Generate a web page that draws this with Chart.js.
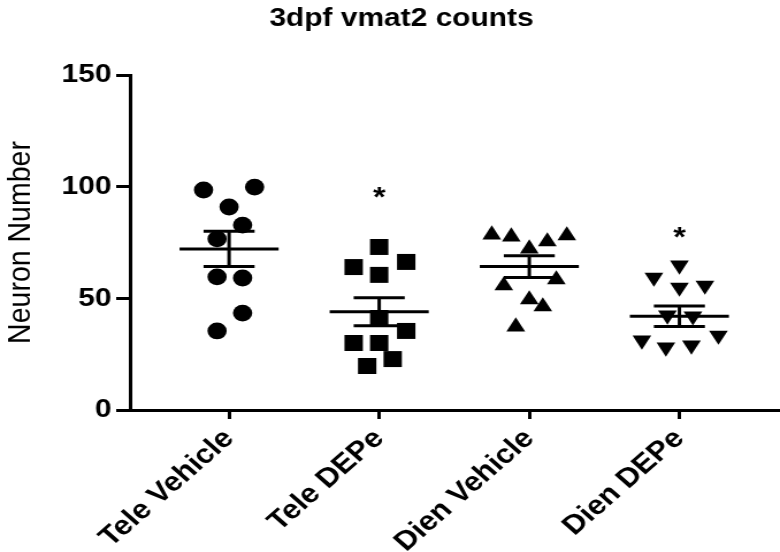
<!DOCTYPE html>
<html>
<head>
<meta charset="utf-8">
<script src="https://cdn.jsdelivr.net/npm/chart.js@4.4.0/dist/chart.umd.min.js"></script>
<style>
html, body { margin: 0; padding: 0; background: #fff; overflow: hidden; }
/* the source figure is stretched sideways, so the whole chart is widened the same way */
#wrap { width: 678px; height: 552px; transform: scaleX(1.1504); transform-origin: 0 0; }
</style>
</head>
<body>
<div id="wrap"><canvas id="vmat2-chart"></canvas></div>
<script>
// values
const groups = ['Tele Vehicle', 'Tele DEPe', 'Dien Vehicle', 'Dien DEPe'];
const teleVehicle = [98.5, 99.8, 90.9, 82.8, 76.6, 59.6, 59.1, 43.4, 35.4];
const teleDEPe = [73.0, 64.0, 66.3, 60.5, 41.2, 35.4, 30.0, 30.0, 22.8, 19.7];
const dienVehicle = [78.5, 77.6, 75.4, 78.1, 72.2, 58.4, 55.7, 49.4, 46.3, 37.3];
const dienDEPe = [64.8, 59.4, 54.9, 55.8, 42.4, 42.0, 33.4, 31.2, 28.1, 29.0];
const means = [72.1, 44.0, 64.2, 42.0];
const sems = [7.9, 6.3, 4.9, 4.6];
const stars = [null, 98.5, null, 80.5];
const yTicks = [0, 50, 100, 150];

// horizontal scatter of the dots inside each column (category units)
const teleVehicleSpread = [-0.17, 0.17, 0, 0.09, -0.08, -0.08, 0.09, 0.09, -0.08];
const teleDEPeSpread = [0, -0.17, 0.18, 0, 0, 0.18, -0.17, 0, 0.09, -0.08];
const dienVehicleSpread = [-0.25, -0.12, 0.12, 0.25, 0, 0.18, -0.17, 0, 0.09, -0.09];
const dienDEPeSpread = [0, -0.17, 0, 0.17, -0.08, 0.09, 0.26, -0.25, -0.09, 0.08];

const FONT = '"Liberation Sans", Arial, Helvetica, sans-serif';

function dots(values, spread, i) {
    return values.map((v, k) => ({ x: i + spread[k], y: v }));
}

function meanLine(i) {
    return [{ x: i - 0.33, y: means[i] }, { x: i + 0.33, y: means[i] }];
}

function semBars(i) {
    const up = means[i] + sems[i];
    const lo = means[i] - sems[i];
    return [
        { x: i - 0.17, y: up }, { x: i + 0.17, y: up }, { x: i + 0.17, y: null },
        { x: i, y: up }, { x: i, y: lo }, { x: i, y: null },
        { x: i - 0.17, y: lo }, { x: i + 0.17, y: lo }
    ];
}

const dotSets = [
    { data: dots(teleVehicle, teleVehicleSpread, 0), pointStyle: 'circle', pointRadius: 8.4, pointRotation: 0 },
    { data: dots(teleDEPe, teleDEPeSpread, 1), pointStyle: 'rect', pointRadius: 11.3, pointRotation: 0 },
    { data: dots(dienVehicle, dienVehicleSpread, 2), pointStyle: 'triangle', pointRadius: 9.4, pointRotation: 0 },
    { data: dots(dienDEPe, dienDEPeSpread, 3), pointStyle: 'triangle', pointRadius: 9.4, pointRotation: 180 }
].map(d => Object.assign(d, {
    type: 'scatter',
    showLine: false,
    backgroundColor: 'black',
    borderColor: 'black',
    borderWidth: 0,
    pointHoverRadius: d.pointRadius
}));

const lineSets = [];
groups.forEach((g, i) => {
    [meanLine(i), semBars(i)].forEach(pts => {
        lineSets.push({
            type: 'line',
            data: pts,
            borderColor: 'black',
            borderWidth: 3,
            pointRadius: 0,
            spanGaps: false,
            fill: false
        });
    });
});

const starPlugin = {
    id: 'stars',
    afterDatasetsDraw(chart) {
        const ctx = chart.ctx;
        const xs = chart.scales.x;
        const ys = chart.scales.y;
        const size = 28;
        ctx.save();
        ctx.fillStyle = 'black';
        ctx.font = 'bold ' + size + 'px ' + FONT;
        ctx.textAlign = 'center';
        ctx.textBaseline = 'alphabetic';
        stars.forEach((v, i) => {
            if (v === null) return;
            ctx.fillText('*', xs.getPixelForValue(i), ys.getPixelForValue(v) + 0.58 * size);
        });
        ctx.restore();
    }
};

new Chart(document.getElementById('vmat2-chart'), {
    data: { datasets: dotSets.concat(lineSets) },
    plugins: [starPlugin],
    options: {
        responsive: true,
        maintainAspectRatio: false,
        animation: false,
        layout: { autoPadding: false, padding: { top: 0, right: 0, bottom: 0, left: 20 } },
        plugins: {
            legend: { display: false },
            tooltip: { enabled: false },
            title: {
                display: true,
                text: '3dpf vmat2 counts',
                color: 'black',
                font: { family: FONT, size: 26, weight: 'bold' },
                padding: { top: 3, bottom: 40.8 }
            }
        },
        scales: {
            x: {
                type: 'linear',
                min: -0.66,
                max: 3.67,
                afterBuildTicks: scale => {
                    scale.ticks = groups.map((g, i) => ({ value: i }));
                },
                afterFit: scale => { scale.height = 142; },
                grid: {
                    display: true,
                    drawOnChartArea: false,
                    drawTicks: true,
                    tickLength: 9,
                    color: 'black',
                    lineWidth: 3
                },
                border: { display: true, color: 'black', width: 3 },
                ticks: {
                    color: 'black',
                    autoSkip: false,
                    minRotation: 45,
                    maxRotation: 45,
                    padding: 4,
                    font: { family: FONT, size: 27, weight: 'bold' },
                    callback: v => groups[v]
                }
            },
            y: {
                min: 0,
                max: 150,
                afterBuildTicks: scale => {
                    scale.ticks = yTicks.map(v => ({ value: v }));
                },
                afterFit: scale => { scale.width = 93; },
                grid: {
                    display: true,
                    drawOnChartArea: false,
                    drawTicks: true,
                    tickLength: 12,
                    color: 'black',
                    lineWidth: 3
                },
                border: { display: true, color: 'black', width: 3 },
                ticks: {
                    color: 'black',
                    padding: 4,
                    font: { family: FONT, size: 26, weight: 'bold' }
                },
                title: {
                    display: true,
                    text: 'Neuron Number',
                    color: 'black',
                    padding: { top: -19.3, bottom: 0 },
                    font: { family: FONT, size: 28.5, weight: 'normal' }
                }
            }
        }
    }
});
</script>
</body>
</html>
